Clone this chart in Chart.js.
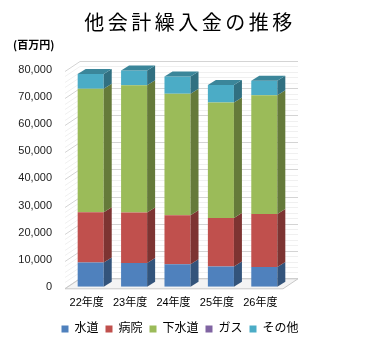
<!DOCTYPE html>
<html lang="ja">
<head>
<meta charset="UTF-8">
<title>他会計繰入金の推移</title>
<style>
    body { margin: 0; background: #fff; }
    canvas { display: block; }
</style>
</head>
<body>
<canvas id="chart" width="379" height="363"></canvas>
<script src="https://cdn.jsdelivr.net/npm/chart.js"></script>
<script>
    // データ（百万円）
    const years = ['22年度', '23年度', '24年度', '25年度', '26年度'];
    const suido   = [9000, 8800, 8300, 7500, 7300];      // 水道
    const byoin   = [18500, 18600, 18100, 17900, 19600]; // 病院
    const gesuido = [45600, 47000, 44800, 42600, 43800]; // 下水道
    const gas     = [0, 0, 0, 0, 0];                     // ガス
    const sonota  = [5400, 5400, 6400, 6500, 5300];      // その他
    const yTicks = [0, 10000, 20000, 30000, 40000, 50000, 60000, 70000, 80000];

    const FONT = "'Liberation Sans', 'Noto Sans CJK JP', sans-serif";

    function shade(hex, f) {
        const n = parseInt(hex.slice(1), 16);
        const r = Math.round(((n >> 16) & 255) * f);
        const g = Math.round(((n >> 8) & 255) * f);
        const b = Math.round((n & 255) * f);
        return `rgb(${r},${g},${b})`;
    }

    // 奥の壁・床・目盛線
    const wallPlugin = {
        id: 'wall3d',
        beforeDatasetsDraw(chart) {
            const { ctx, chartArea: a } = chart;
            const y = chart.scales.y;
            const l = a.left - 4, r = a.right - 3;
            const dx = 15, dy = 10;
            const b = y.getPixelForValue(0) + 1;
            ctx.save();
            ctx.lineWidth = 1;
            // 細かい線
            for (let v = 0; v <= 80000; v += 2000) {
                const py = Math.round(y.getPixelForValue(v) + 1) + 0.5;
                ctx.strokeStyle = (v % 10000 === 0) ? '#d4d4d4' : '#f0f0f0';
                ctx.beginPath();
                ctx.moveTo(l, py);
                ctx.lineTo(l + dx, py - dy);
                ctx.lineTo(r + dx, py - dy);
                ctx.stroke();
            }
            // 床
            ctx.fillStyle = '#f4f4f4';
            ctx.strokeStyle = '#c8c8c8';
            ctx.beginPath();
            ctx.moveTo(l, b + 1);
            ctx.lineTo(r, b + 1);
            ctx.lineTo(r + dx, b + 1 - dy);
            ctx.lineTo(l + dx, b + 1 - dy);
            ctx.closePath();
            ctx.fill();
            ctx.stroke();
            ctx.restore();
        }
    };

    // 棒の側面と上面
    const barPlugin = {
        id: 'bar3d',
        afterDatasetsDraw(chart) {
            const ctx = chart.ctx;
            const dx = 8, dy = 5;
            const n = chart.data.datasets.length;
            ctx.save();
            chart.data.datasets.forEach((ds, i) => {
                const meta = chart.getDatasetMeta(i);
                meta.data.forEach((bar, j) => {
                    if (!ds.data[j]) return;
                    const { x, y, base, width } = bar.getProps(['x', 'y', 'base', 'width'], true);
                    const L = x - width / 2, R = x + width / 2;
                    ctx.fillStyle = shade(ds.backgroundColor, 0.65);
                    ctx.beginPath();
                    ctx.moveTo(R, y);
                    ctx.lineTo(R + dx, y - dy);
                    ctx.lineTo(R + dx, base - dy);
                    ctx.lineTo(R, base);
                    ctx.closePath();
                    ctx.fill();
                    if (i === n - 1) {
                        ctx.fillStyle = shade(ds.backgroundColor, 0.78);
                        ctx.beginPath();
                        ctx.moveTo(L, y);
                        ctx.lineTo(L + dx, y - dy);
                        ctx.lineTo(R + dx, y - dy);
                        ctx.lineTo(R, y);
                        ctx.closePath();
                        ctx.fill();
                    }
                });
            });
            ctx.restore();
        }
    };

    // タイトルと単位
    const titlePlugin = {
        id: 'titles',
        afterDraw(chart) {
            const ctx = chart.ctx;
            ctx.save();
            ctx.fillStyle = '#000';
            ctx.textBaseline = 'middle';
            ctx.textAlign = 'center';
            ctx.font = "20px 'Noto Sans CJK JP', sans-serif";
            ctx.letterSpacing = '3.5px';
            ctx.fillText('他会計繰入金の推移', 190, 22);
            ctx.letterSpacing = '0px';
            ctx.textAlign = 'left';
            ctx.font = "bold 11px 'Noto Sans CJK JP', sans-serif";
            ctx.fillText('(百万円)', 13, 45);
            ctx.restore();
        }
    };

    const ctx = document.getElementById('chart').getContext('2d');
    new Chart(ctx, {
        type: 'bar',
        data: {
            labels: years,
            datasets: [
                { label: '水道', data: suido, backgroundColor: '#4F81BD' },
                { label: '病院', data: byoin, backgroundColor: '#C0504D' },
                { label: '下水道', data: gesuido, backgroundColor: '#9BBB59' },
                { label: 'ガス', data: gas, backgroundColor: '#8064A2' },
                { label: 'その他', data: sonota, backgroundColor: '#4BACC6' }
            ]
        },
        options: {
            responsive: false,
            animation: false,
            categoryPercentage: 1,
            barPercentage: 0.6,
            layout: { padding: { top: 70, left: 0, right: 19, bottom: 18 } },
            plugins: {
                tooltip: { enabled: false },
                legend: {
                    position: 'bottom',
                    labels: {
                        boxWidth: 7,
                        boxHeight: 7,
                        padding: 7,
                        color: '#000',
                        font: { family: FONT, size: 12 }
                    }
                }
            },
            scales: {
                y: {
                    stacked: true,
                    min: 0,
                    max: 80000,
                    afterFit: s => { s.width = 69; },
                    afterBuildTicks: s => { s.ticks = yTicks.map(v => ({ value: v })); },
                    grid: { display: false, drawTicks: false },
                    border: { display: false },
                    ticks: {
                        padding: 17,
                        color: '#222',
                        font: { family: FONT, size: 11 },
                        callback: v => v.toLocaleString('en-US')
                    }
                },
                y2: {
                    position: 'right',
                    afterFit: s => { s.width = 74; },
                    grid: { display: false, drawTicks: false },
                    border: { display: false },
                    ticks: { display: false }
                },
                x: {
                    stacked: true,
                    afterFit: s => { s.height -= 4; },
                    grid: { display: false, drawTicks: false },
                    border: { display: false },
                    ticks: {
                        padding: 10,
                        labelOffset: -4,
                        color: '#000',
                        font: { family: FONT, size: 11 }
                    }
                }
            }
        },
        plugins: [wallPlugin, barPlugin, titlePlugin]
    });
</script>
</body>
</html>
